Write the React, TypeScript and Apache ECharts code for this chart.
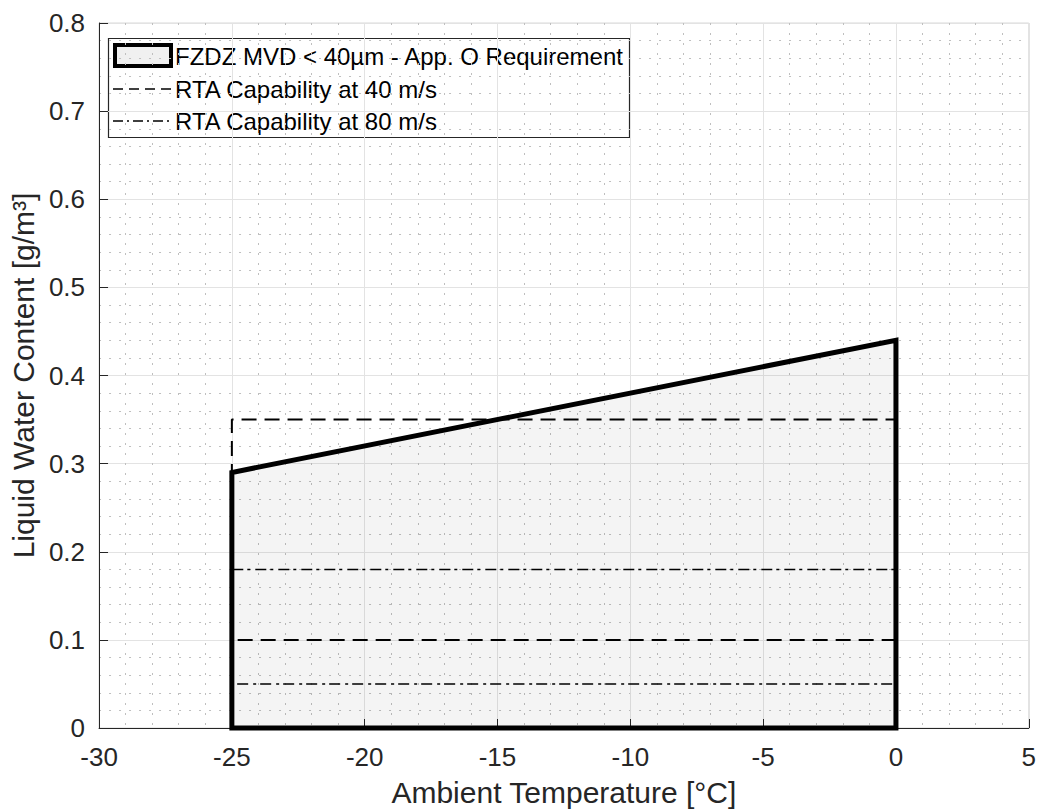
import React, { useEffect, useRef } from "react";
import * as echarts from "echarts";

// Axis ticks
const xTicks = [-30, -25, -20, -15, -10, -5, 0, 5];
const yTicks = [0, 0.1, 0.2, 0.3, 0.4, 0.5, 0.6, 0.7, 0.8];

// Appendix O FZDZ (MVD < 40 µm) envelope: temperature [°C] vs LWC [g/m³]
const reqTemp = [-25, -25, 0, 0, -25];
const reqLwc = [0, 0.29, 0.44, 0, 0];

// Upper edge of the envelope (used for the shaded area)
const reqTopTemp = [-25, 0];
const reqTopLwc = [0.29, 0.44];

// Tunnel capability boxes
const rta40Temp = [-25, -25, 0, 0, -25];
const rta40Lwc = [0.1, 0.35, 0.35, 0.1, 0.1];
const rta80Temp = [-25, -25, 0, 0, -25];
const rta80Lwc = [0.05, 0.18, 0.18, 0.05, 0.05];

const legendLabels = [
  "FZDZ MVD < 40µm - App. O Requirement",
  "RTA Capability at 40 m/s",
  "RTA Capability at 80 m/s",
];

const FONT = "'Liberation Sans', Arial, Helvetica, sans-serif";
const TXT = "#262626";
const DASH = [15, 8];
const DASHDOT = [11, 4, 3, 5];

const pairs = (xs: number[], ys: number[]) => xs.map((x, i) => [x, ys[i]]);

export default function App() {
  const ref = useRef<HTMLDivElement>(null);

  useEffect(() => {
    if (!ref.current) return;
    const chart = echarts.init(ref.current, null, { renderer: "svg" });

    const lx = 108;
    const ly = 38;
    const rowY = [56, 89, 121];

    chart.setOption({
      animation: false,
      backgroundColor: "#ffffff",
      grid: {
        left: 97,
        top: 23,
        right: 9,
        bottom: 83,
        show: true,
        borderColor: "#d9d9d9",
        borderWidth: 1,
        backgroundColor: "transparent",
      },
      xAxis: {
        type: "value",
        min: xTicks[0],
        max: xTicks[xTicks.length - 1],
        interval: 5,
        name: "Ambient Temperature [°C]",
        nameLocation: "middle",
        nameGap: 49,
        nameTextStyle: { fontFamily: FONT, fontSize: 30, color: TXT },
        axisLine: { show: true, onZero: false, lineStyle: { color: TXT, width: 1 } },
        axisTick: { show: true, inside: true, length: 9, lineStyle: { color: TXT } },
        axisLabel: { margin: 16, fontFamily: FONT, fontSize: 26, color: TXT },
        splitLine: { show: true, lineStyle: { color: "#e3e3e3", width: 1 } },
        minorTick: { show: false, splitNumber: 5 },
        minorSplitLine: { show: true, lineStyle: { color: "#bfbfbf", width: 1, type: [2, 8] } },
      },
      yAxis: {
        type: "value",
        min: yTicks[0],
        max: yTicks[yTicks.length - 1],
        interval: 0.1,
        name: "Liquid Water Content [g/m³]",
        nameLocation: "middle",
        nameGap: 61,
        nameTextStyle: { fontFamily: FONT, fontSize: 30, color: TXT },
        axisLine: { show: true, onZero: false, lineStyle: { color: TXT, width: 1 } },
        axisTick: { show: true, inside: true, length: 9, lineStyle: { color: TXT } },
        axisLabel: {
          margin: 14,
          fontFamily: FONT,
          fontSize: 26,
          color: TXT,
          formatter: (v: number) => (v === 0 ? "0" : String(Math.round(v * 10) / 10)),
        },
        splitLine: { show: true, lineStyle: { color: "#e3e3e3", width: 1 } },
        minorTick: { show: false, splitNumber: 5 },
        minorSplitLine: { show: true, lineStyle: { color: "#bfbfbf", width: 1, type: [2, 8] } },
      },
      series: [
        {
          name: "fill",
          type: "line",
          data: pairs(reqTopTemp, reqTopLwc),
          symbol: "none",
          lineStyle: { width: 0 },
          areaStyle: { color: "rgba(0,0,0,0.06)", origin: "start" },
          z: 1,
        },
        {
          name: legendLabels[1],
          type: "line",
          data: pairs(rta40Temp, rta40Lwc),
          symbol: "none",
          lineStyle: { color: "#000", width: 2, type: DASH },
          z: 2,
        },
        {
          name: legendLabels[2],
          type: "line",
          data: pairs(rta80Temp, rta80Lwc),
          symbol: "none",
          lineStyle: { color: "#000", width: 1.5, type: DASHDOT },
          z: 2,
        },
        {
          name: legendLabels[0],
          type: "line",
          data: pairs(reqTemp, reqLwc),
          symbol: "none",
          clip: false,
          lineStyle: { color: "#000", width: 5, join: "miter", cap: "square" },
          z: 3,
        },
      ],
      graphic: [
        {
          type: "group",
          z: 100,
          children: [
            {
              type: "rect",
              shape: { x: lx + 0.5, y: ly + 0.5, width: 521, height: 99 },
              style: { fill: "#ffffff", stroke: "#262626", lineWidth: 1.2 },
            },
            {
              type: "rect",
              shape: { x: 115, y: 45, width: 56, height: 21 },
              style: { fill: "#f0f0f0", stroke: "#000", lineWidth: 4 },
            },
            {
              type: "line",
              shape: { x1: 113, y1: rowY[1], x2: 173, y2: rowY[1] },
              style: { stroke: "#000", lineWidth: 1.5, lineDash: [10, 6] },
            },
            {
              type: "line",
              shape: { x1: 113, y1: rowY[2], x2: 173, y2: rowY[2] },
              style: { stroke: "#000", lineWidth: 1.5, lineDash: [10, 4, 2, 4] },
            },
            ...legendLabels.map((t, i) => ({
              type: "text",
              x: 175,
              y: rowY[i],
              style: {
                text: t,
                fontFamily: FONT,
                fontSize: 24,
                fill: "#000",
                textVerticalAlign: "middle",
                verticalAlign: "middle",
              },
            })),
          ],
        },
      ],
    });

    return () => chart.dispose();
  }, []);

  return (
    <div
      ref={ref}
      style={{ position: "fixed", left: 0, top: 0, width: 1039, height: 812, background: "#fff" }}
    />
  );
}
